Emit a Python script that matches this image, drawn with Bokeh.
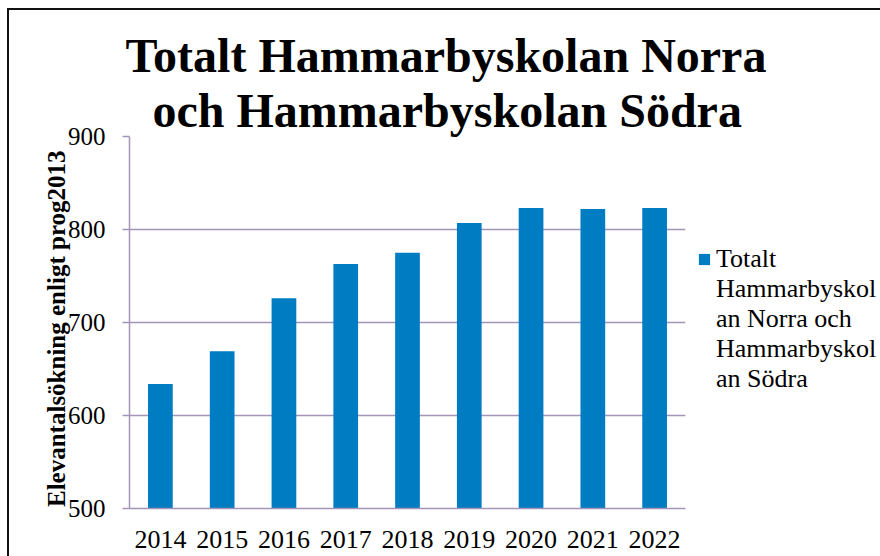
from bokeh.plotting import figure
from bokeh.models import Range1d, FactorRange, FixedTicker, Legend, LegendItem, Title
from bokeh.embed import file_html
from bokeh.resources import INLINE

years = ["2014", "2015", "2016", "2017", "2018", "2019", "2020", "2021", "2022"]
students = [634, 669, 726, 763, 775, 807, 823, 822, 823]
y_ticks = [500, 600, 700, 800, 900]
title_lines = ["Totalt Hammarbyskolan Norra", "och Hammarbyskolan Södra"]
y_title = "Elevantalsökning enligt prog2013"
legend_lines = ["Totalt", "Hammarbyskol", "an Norra och", "Hammarbyskol", "an Södra"]

W, H = 880, 556
FL, FR, FT, FB = 129, 685, 136, 508
GRID = "#A394B8"
BAR = "#007CC3"
FONT = "Liberation Serif"

p = figure(frame_width=FR - FL, frame_height=FB - FT,
           x_range=FactorRange(*years), y_range=Range1d(500, 900),
           output_backend="svg", toolbar_location=None,
           min_border_left=FL, min_border_right=W - FR,
           min_border_top=FT, min_border_bottom=H - FB)
p.outline_line_color = None
p.border_fill_color = None
p.background_fill_color = "white"
p.styles = {"background": "linear-gradient(#111, #111) 7px 8px / 880px 2px no-repeat, "
                          "linear-gradient(#111, #111) 7px 8px / 2px 556px no-repeat, white"}
p.x_range.range_padding = 0
p.x_range.group_padding = 0

r = p.vbar(x=years, top=students, bottom=500, width=0.4, fill_color=BAR, line_color=None)
blank = p.vbar(x=[], top=[], bottom=500, width=0.4, fill_alpha=0, line_alpha=0)

p.yaxis.ticker = FixedTicker(ticks=y_ticks)
p.ygrid.ticker = FixedTicker(ticks=y_ticks)
p.ygrid.grid_line_color = GRID
p.ygrid.grid_line_width = 1.5
p.xgrid.grid_line_color = None

for ax in (p.xaxis[0], p.yaxis[0]):
    ax.axis_line_color = GRID
    ax.axis_line_width = 1.5
    ax.major_label_text_font = FONT
    ax.major_label_text_color = "#000"
    ax.minor_tick_line_color = None
p.yaxis.major_label_text_font_size = "25px"
p.xaxis.major_label_text_font_size = "26px"
p.yaxis.major_tick_line_color = GRID
p.yaxis.major_tick_line_width = 1.5
p.yaxis.major_tick_out = 7
p.yaxis.major_tick_in = 0
p.yaxis.major_label_standoff = 17
p.xaxis.major_tick_line_color = None
p.xaxis.major_label_standoff = 16

p.yaxis.axis_label = y_title + "  "
p.yaxis.axis_label_text_font = FONT
p.yaxis.axis_label_text_font_style = "bold"
p.yaxis.axis_label_text_font_size = "25px"
p.yaxis.axis_label_text_color = "#000"
p.yaxis.axis_label_standoff = -5

p.title.text = title_lines[0]
p.title.align = "left"
p.title.offset = -4
p.title.standoff = 0
p.title.text_font = FONT
p.title.text_font_style = "bold"
p.title.text_font_size = "48px"
p.title.text_color = "#000"
p.add_layout(Title(text=title_lines[1], align="left", offset=23, standoff=0,
                   text_font=FONT, text_font_style="bold", text_font_size="48px",
                   text_color="#000"), "above")

items = [LegendItem(label=legend_lines[0], renderers=[r])]
items += [LegendItem(label=t, renderers=[blank]) for t in legend_lines[1:]]
legend = Legend(items=items, location=(12, 114), glyph_width=14, glyph_height=14,
                label_standoff=5, label_height=30, spacing=0,
                padding=0, margin=0, border_line_color=None, background_fill_alpha=0,
                label_text_font=FONT, label_text_font_size="26px", label_text_color="#000")
p.add_layout(legend, "right")

open("out.html", "w").write(file_html(p, INLINE))
